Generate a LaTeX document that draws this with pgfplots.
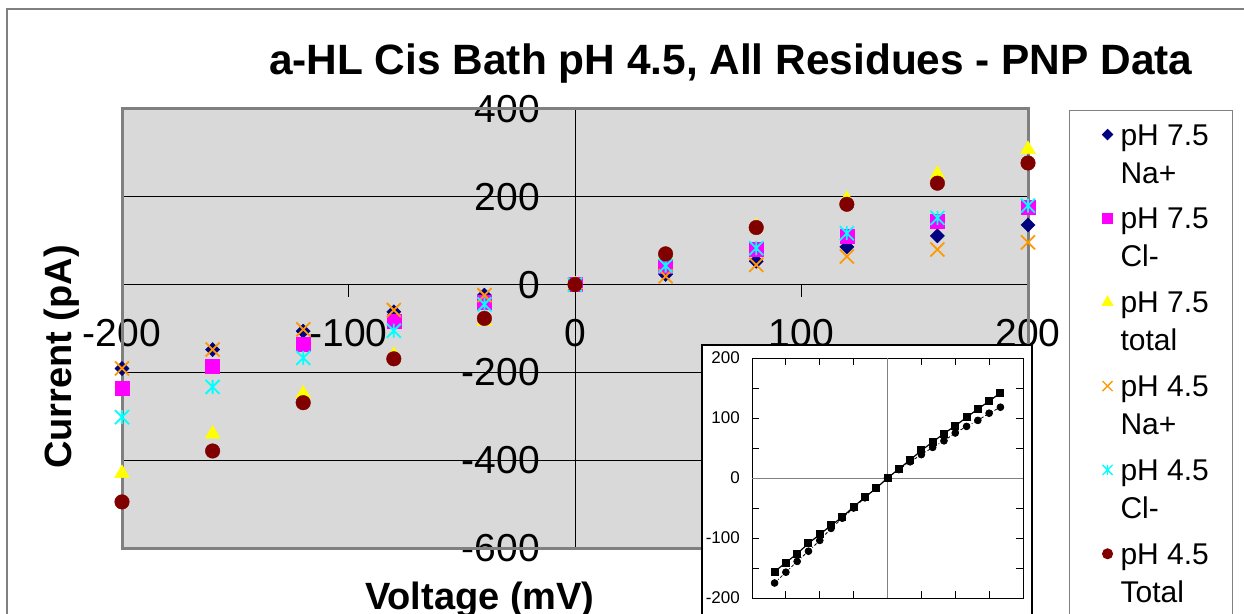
\documentclass[border=0pt]{standalone}
\usepackage{pgfplots}
\usepackage{pgfplotstable}
\pgfplotsset{compat=1.18}
\usepackage{fontspec}
\setmainfont{Liberation Sans}
\definecolor{sA}{HTML}{000080}
\definecolor{sB}{HTML}{FF00FF}
\definecolor{sC}{HTML}{FFFF00}
\definecolor{sD}{HTML}{FF9900}
\definecolor{sE}{HTML}{00FFFF}
\definecolor{sF}{HTML}{800000}
\definecolor{plotbg}{HTML}{D9D9D9}
\definecolor{bordergray}{HTML}{808080}
\pgfdeclareplotmark{bigx}{%
  \pgfpathmoveto{\pgfqpoint{-\pgfplotmarksize}{-\pgfplotmarksize}}%
  \pgfpathlineto{\pgfqpoint{\pgfplotmarksize}{\pgfplotmarksize}}%
  \pgfpathmoveto{\pgfqpoint{-\pgfplotmarksize}{\pgfplotmarksize}}%
  \pgfpathlineto{\pgfqpoint{\pgfplotmarksize}{-\pgfplotmarksize}}%
  \pgfusepathqstroke}
\pgfdeclareplotmark{xstar}{%
  \pgfpathmoveto{\pgfqpoint{-\pgfplotmarksize}{-\pgfplotmarksize}}%
  \pgfpathlineto{\pgfqpoint{\pgfplotmarksize}{\pgfplotmarksize}}%
  \pgfpathmoveto{\pgfqpoint{-\pgfplotmarksize}{\pgfplotmarksize}}%
  \pgfpathlineto{\pgfqpoint{\pgfplotmarksize}{-\pgfplotmarksize}}%
  \pgfpathmoveto{\pgfqpoint{0pt}{-\pgfplotmarksize}}%
  \pgfpathlineto{\pgfqpoint{0pt}{\pgfplotmarksize}}%
  \pgfusepathqstroke}

\pgfplotstableread{
V    naA   clA   totA  naB   clB   totB
-200 -191  -235  -430  -191  -302  -495
-160 -148  -186  -340  -148  -233  -379
-120 -106  -135  -249  -102  -167  -269
-80  -62   -83   -161  -58   -105  -169
-40  -24   -40   -83   -24   -45   -77
0    0     0     0     0     0     0
40   23    42    68    19    43    70
80   53    81    132   45    83    130
120  86    111   194   64    117   183
160  111   145   251   80    152   231
200  136   177   308   96    180   277
}\maindata

\pgfplotstableread{
V    sq    ci
-100 -156  -175
-90  -141  -157
-80  -126  -139
-70  -109  -122
-60  -94   -104
-50  -79   -84
-40  -65   -67
-30  -48   -50
-20  -32   -33
-10  -17   -17
0    0     0
10   15    14
20   30    27
30   46    39
40   60    51
50   74    62
60   87    75
70   101   86
80   115   96
90   128   108
100  142   118
}\insetdata

\begin{document}
\begin{tikzpicture}[x=1pt,y=1pt]
\path[use as bounding box, clip] (0,0) rectangle (1244,613);
\draw[bordergray, line width=2pt] (7,-10) -- (7,604) -- (1260,604);

\begin{axis}[
  at={(122pt,65pt)}, anchor=south west,
  scale only axis, width=906pt, height=439pt,
  xmin=-200, xmax=200, ymin=-600, ymax=400,
  clip=false,
  axis lines=middle,
  hide obscured x ticks=false, hide obscured y ticks=false,
  axis line style={-, black, line width=1pt},
  axis background/.style={fill=plotbg},
  xtick={-200,-100,0,100,200},
  ytick={-600,-400,-200,0,200,400},
  tick align=outside,
  major tick length=12pt,
  tick style={black, line width=1pt},
  ymajorgrids, grid style={black, line width=1pt},
  /pgf/number format/assume math mode=true,
  tick label style={font=\fontsize{39}{39}\selectfont},
  xticklabel style={anchor=north, inner sep=0pt, yshift=-22pt},
  yticklabel style={anchor=east, inner sep=0pt, xshift=-23pt},
  title={a-HL Cis Bath pH 4.5, All Residues - PNP Data},
  title style={at={(axis description cs:0.672,1.0638)}, anchor=base, font=\bfseries\fontsize{42.4}{42.4}\selectfont},
  xlabel={Voltage (mV)},
  xlabel style={at={(axis description cs:0.395,-0.1412)}, anchor=base, font=\bfseries\fontsize{38}{38}\selectfont},
  ylabel={Current (pA)},
  ylabel style={at={(axis description cs:-0.0662,0.435)}, anchor=center, rotate=90, font=\bfseries\fontsize{38}{38}\selectfont},
  legend image code/.code={\path[draw=none, fill=none] (-16pt,-27pt) rectangle (7pt,27pt); \draw[#1] plot coordinates {(0pt,20pt)};},
  legend style={at={(axis description cs:1.0453,0.9977)}, anchor=north west,
    draw=bordergray, line width=1pt, fill=white,
    inner xsep=22pt, inner ysep=12pt, row sep=19.7pt, column sep=4pt,
    font=\fontsize{30}{38}\selectfont,
    cells={align=left, inner sep=0pt}},
  legend cell align=left,
]
\draw[bordergray, line width=3pt] (rel axis cs:0,0) rectangle (rel axis cs:1,1);
\addplot[only marks, mark=square*, mark size=5pt, color=sA, mark options={rotate=45}, legend image post style={mark size=3.6pt}] table[x=V,y=naA] {\maindata};
\addlegendentry{pH 7.5\\Na+}
\addplot[only marks, mark=square*, mark size=7pt, color=sB, legend image post style={mark size=5pt}] table[x=V,y=clA] {\maindata};
\addlegendentry{pH 7.5\\Cl-}
\addplot[only marks, mark=triangle*, mark size=8.6pt, color=sC, legend image post style={mark size=6pt}] table[x=V,y=totA] {\maindata};
\addlegendentry{pH 7.5\\total}
\addplot[only marks, mark=bigx, mark size=7pt, color=sD, line width=1.8pt, legend image post style={mark size=5pt, line width=1.3pt}] table[x=V,y=naB] {\maindata};
\addlegendentry{pH 4.5\\Na+}
\addplot[only marks, mark=xstar, mark size=7pt, color=sE, line width=1.8pt, legend image post style={mark size=5pt, line width=1.3pt}] table[x=V,y=clB] {\maindata};
\addlegendentry{pH 4.5\\Cl-}
\addplot[only marks, mark=*, mark size=7.3pt, color=sF, legend image post style={mark size=5pt}] table[x=V,y=totB] {\maindata};
\addlegendentry{pH 4.5\\Total}
\end{axis}

\filldraw[fill=white, draw=black, line width=2pt] (702,-10) rectangle (1032,268);

\begin{axis}[
  at={(752pt,15pt)}, anchor=south west,
  scale only axis, width=271pt, height=240pt,
  xmin=-120, xmax=120, ymin=-200, ymax=200,
  axis line style={black, line width=1pt},
  xtick={-90,-60,-30,0,30,60,90}, xticklabels={},
  ytick={-200,-100,0,100,200},
  minor ytick={-150,-50,50,150},
  tick align=inside,
  major tick length=7pt, minor tick length=7pt,
  tick style={black, line width=0.8pt},
  /pgf/number format/assume math mode=true,
  yticklabel style={font=\fontsize{17}{17}\selectfont, anchor=east, inner sep=0pt, xshift=-12pt},
]
\draw[gray, line width=0.8pt] (axis cs:0,-200) -- (axis cs:0,200);
\draw[gray, line width=0.8pt] (axis cs:-120,0) -- (axis cs:120,0);
\addplot[black, line width=1.2pt, mark=square*, mark size=3.4pt] table[x=V,y=sq] {\insetdata};
\addplot[black, line width=0.8pt, dash dot, mark=*, mark size=3.4pt, mark options={solid}] table[x=V,y=ci] {\insetdata};
\end{axis}
\end{tikzpicture}
\end{document}
